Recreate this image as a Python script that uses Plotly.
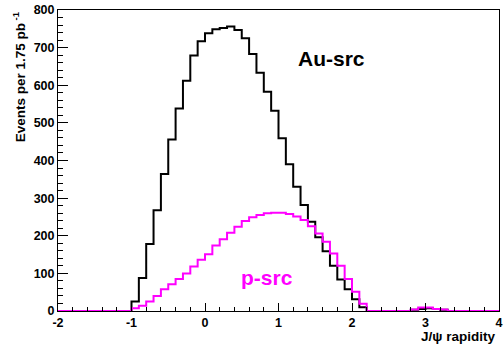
import numpy as np
import plotly.graph_objects as go

# Histogram binning: 60 bins of width 0.1 from -2 to 4
bin_lo = -2.0
bin_width = 0.1
n_bins = 60

au_src = [0, 0, 0, 0, 0, 0, 0, 0, 0, 0,
          25, 88, 178, 268, 364, 456, 538, 612, 679, 717,
          738, 749, 752, 756, 747, 725, 683, 633, 583, 532,
          459, 390, 330, 282, 237, 196, 159, 120, 84, 58,
          31, 10, 0, 0, 0, 0, 0, 0, 3, 5,
          7, 5, 3, 0, 0, 0, 0, 0, 0, 0]

p_src = [0, 0, 0, 0, 0, 0, 0, 0, 0, 0,
         7, 14, 25, 40, 58, 71, 85, 100, 118, 136,
         151, 174, 191, 208, 224, 239, 249, 255, 260, 261,
         261, 258, 251, 242, 225, 206, 184, 153, 120, 85,
         51, 19, 0, 0, 0, 0, 0, 0, 4, 9,
         9, 5, 4, 0, 0, 0, 0, 0, 0, 0]

x_ticks = [-2, -1, 0, 1, 2, 3, 4]
y_ticks = [0, 100, 200, 300, 400, 500, 600, 700, 800]

edges = np.round(bin_lo + bin_width * np.arange(n_bins + 1), 2)

FONT = "Liberation Sans, Arial, Helvetica, sans-serif"

fig = go.Figure()
for vals, col in [(au_src, "#000000"), (p_src, "#ff00ff")]:
    fig.add_trace(go.Scatter(
        x=edges, y=list(vals) + [vals[-1]],
        mode="lines", line=dict(shape="hv", color=col, width=2),
        showlegend=False, hoverinfo="skip"))

W, H = 504, 344
ml, mr, mt, mb = 58, 1, 10, 33

fig.update_layout(
    width=W, height=H,
    margin=dict(l=ml, r=mr, t=mt, b=mb),
    paper_bgcolor="white", plot_bgcolor="white",
    font=dict(family=FONT, size=12.5, color="black", weight="bold"),
    xaxis=dict(range=[-2, 4], tickvals=x_ticks, ticktext=[str(v) for v in x_ticks],
               ticks="inside", ticklen=8, tickwidth=1, tickcolor="black",
               minor=dict(ticks="inside", ticklen=4, dtick=0.2, tick0=-2, tickcolor="black"),
               showgrid=False, zeroline=False, showline=True, linecolor="black",
               linewidth=1, mirror=True, ticklabeloverflow="allow",
               tickfont=dict(family=FONT, size=12.5, color="black", weight="bold")),
    yaxis=dict(range=[0, 800], tickvals=y_ticks, ticktext=[str(v) for v in y_ticks],
               ticks="inside", ticklen=10, tickwidth=1, tickcolor="black",
               minor=dict(ticks="inside", ticklen=5, dtick=20, tick0=0, tickcolor="black"),
               showgrid=False, zeroline=False, showline=True, linecolor="black",
               linewidth=1, mirror=True, ticklabeloverflow="allow",
               tickfont=dict(family=FONT, size=12.5, color="black", weight="bold")),
)

pw = W - ml - mr
ph = H - mt - mb

def px_x(p):
    return (p - ml) / pw

def px_y(p):
    return (H - mb - p) / ph

fig.add_annotation(text="Au-src", x=1.72, y=672, xref="x", yref="y",
                   showarrow=False, xanchor="center", yanchor="middle",
                   font=dict(family=FONT, size=21, color="black", weight="bold"))
fig.add_annotation(text="p-src", x=0.85, y=90, xref="x", yref="y",
                   showarrow=False, xanchor="center", yanchor="middle",
                   font=dict(family=FONT, size=21, color="#ff00ff", weight="bold"))
fig.add_annotation(text="Events per 1.75 pb<sup> -1</sup>", textangle=-90,
                   x=px_x(19), y=px_y(10), xref="paper", yref="paper",
                   showarrow=False, xanchor="center", yanchor="top",
                   font=dict(family=FONT, size=13.5, color="black", weight="bold"))
fig.add_annotation(text="J/\u03c8 rapidity", x=px_x(501), y=px_y(336),
                   xref="paper", yref="paper", showarrow=False,
                   xanchor="right", yanchor="middle",
                   font=dict(family=FONT, size=13.5, color="black", weight="bold"))

fig.write_html("out.html")
